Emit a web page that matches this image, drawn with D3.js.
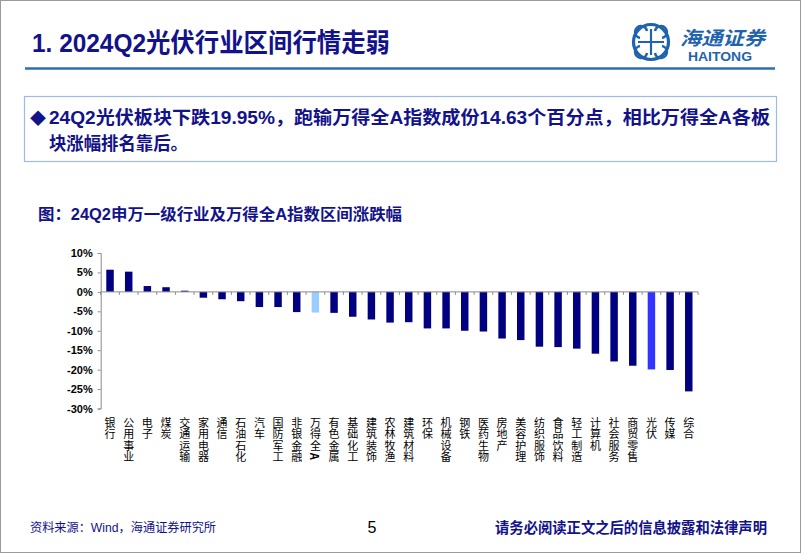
<!DOCTYPE html>
<html><head><meta charset="utf-8">
<script src="https://cdn.jsdelivr.net/npm/d3@7"></script>
<style>html,body{margin:0;padding:0;background:#fff;}svg{display:block;}</style>
</head><body>
<svg id="c" width="802" height="554"></svg>
<script>
const categories = ["银行","公用事业","电子","煤炭","交通运输","家用电器","通信","石油石化","汽车","国防军工","非银金融","万得全A","有色金属","基础化工","建筑装饰","农林牧渔","建筑材料","环保","机械设备","钢铁","医药生物","房地产","美容护理","纺织服饰","食品饮料","轻工制造","计算机","社会服务","商贸零售","光伏","传媒","综合"];
const values = [5.7,5.2,1.5,1.2,0.3,-1.5,-1.9,-2.4,-3.9,-3.9,-5.2,-5.32,-5.4,-6.4,-7.1,-7.9,-7.8,-9.4,-9.4,-10.0,-10.2,-12.0,-12.4,-14.1,-14.2,-14.6,-15.9,-17.9,-19.0,-19.95,-20.1,-25.6];
const yTicks = [10,5,0,-5,-10,-15,-20,-25,-30];
const yTickLabels = ["10%","5%","0%","-5%","-10%","-15%","-20%","-25%","-30%"];
const highlightColors = {"万得全A":"#99CCFF","光伏":"#3333FF"};

const NAVY = "#12128A";
const svg = d3.select("#c");
const CJK = "'Liberation Sans','Noto Sans CJK SC',sans-serif";

// page frame
svg.append("rect").attr("x",0.5).attr("y",0.5).attr("width",800).attr("height",552)
  .attr("fill","#fff").attr("stroke","#9a9a9a").attr("stroke-width",1);

// title
svg.append("text").attr("x",32).attr("y",52).attr("font-family",CJK).attr("font-weight","bold")
  .attr("font-size",26).attr("fill",NAVY).attr("textLength",358).attr("lengthAdjust","spacingAndGlyphs")
  .text("1. 2024Q2光伏行业区间行情走弱");
svg.append("line").attr("x1",25).attr("x2",775).attr("y1",68.5).attr("y2",68.5)
  .attr("stroke","#2E6DB4").attr("stroke-width",2.5);

// logo
const LB = "#1F63AE";
const lg = svg.append("g").attr("transform","translate(651,42)");
lg.append("circle").attr("r",17.5).attr("fill","none").attr("stroke",LB).attr("stroke-width",3.2);
lg.append("path").attr("d","M-11,-4 A6,6 0 1 1 -4,-11 M11,4 A6,6 0 1 1 4,11 M4,-11 A6,6 0 1 1 11,-4 M-4,11 A6,6 0 1 1 -11,4")
  .attr("fill","none").attr("stroke",LB).attr("stroke-width",2.6);
lg.append("path").attr("d","M-13,0 H13 M0,-13 V13").attr("stroke",LB).attr("stroke-width",2.2);
svg.append("text").attr("x",680).attr("y",45).attr("font-family","'Noto Sans CJK SC',sans-serif")
  .attr("font-size",19).attr("font-style","italic").attr("font-weight","bold").attr("fill",LB)
  .attr("textLength",85).attr("lengthAdjust","spacingAndGlyphs").text("海通证券");
svg.append("text").attr("x",688).attr("y",61).attr("font-family","'Liberation Sans',Arial,sans-serif")
  .attr("font-size",13).attr("font-weight","bold").attr("fill",LB)
  .attr("textLength",64).attr("lengthAdjust","spacingAndGlyphs").text("HAITONG");

// text box
svg.append("rect").attr("x",24.5).attr("y",96.5).attr("width",752).attr("height",65)
  .attr("fill","#fff").attr("stroke","#9DBBE3").attr("stroke-width",1.2);
svg.append("text").attr("x",30).attr("y",124).attr("font-family",CJK).attr("font-size",16)
  .attr("fill",NAVY).text("◆");
svg.append("text").attr("x",49).attr("y",124).attr("font-family",CJK).attr("font-weight","bold")
  .attr("font-size",18).attr("fill",NAVY).attr("textLength",721).attr("lengthAdjust","spacingAndGlyphs")
  .text("24Q2光伏板块下跌19.95%，跑输万得全A指数成份14.63个百分点，相比万得全A各板");
svg.append("text").attr("x",49).attr("y",150).attr("font-family",CJK).attr("font-weight","bold")
  .attr("font-size",18).attr("fill",NAVY).attr("textLength",139).attr("lengthAdjust","spacingAndGlyphs")
  .text("块涨幅排名靠后。");

// chart title
svg.append("text").attr("x",38).attr("y",220).attr("font-family",CJK).attr("font-weight","bold")
  .attr("font-size",16).attr("fill",NAVY).attr("textLength",364).attr("lengthAdjust","spacingAndGlyphs")
  .text("图：24Q2申万一级行业及万得全A指数区间涨跌幅");

// scales
const x0 = 100.7, x1 = 698.1;
const x = d3.scaleBand().domain(categories).range([x0, x1])
  .paddingInner(0.6).paddingOuter(0.3);
const step = x.step();
const y = d3.scaleLinear().domain([-30,10]).range([408.5,253]);

// bars
svg.append("g").selectAll("rect").data(categories).join("rect")
  .attr("x",d=>x(d)).attr("width",x.bandwidth())
  .attr("y",(d,i)=>y(Math.max(0,values[i])))
  .attr("height",(d,i)=>Math.abs(y(values[i])-y(0)))
  .attr("fill",d=>highlightColors[d]||"#000080");

// y axis
const yAxis = d3.axisLeft(y).tickValues(yTicks).tickSize(3).tickFormat((d,i)=>yTickLabels[i]);
const ga = svg.append("g").attr("transform",`translate(${x0},0)`).call(yAxis);
ga.select(".domain").attr("stroke","#8c8c8c");
ga.selectAll(".tick line").attr("stroke","#8c8c8c");
ga.selectAll(".tick text").attr("font-family","'Liberation Sans',Arial,sans-serif")
  .attr("font-weight","bold").attr("font-size",11).attr("fill","#000").attr("x",-8);

// x axis line at 0 with ticks at band boundaries
svg.append("line").attr("x1",x0).attr("x2",x1).attr("y1",y(0)).attr("y2",y(0))
  .attr("stroke","#8c8c8c").attr("stroke-width",1);
svg.append("g").selectAll("line").data(d3.range(categories.length+1)).join("line")
  .attr("x1",i=>x0+i*step).attr("x2",i=>x0+i*step).attr("y1",y(0)).attr("y2",y(0)+3)
  .attr("stroke","#8c8c8c");

// x labels (vertical stacked characters)
const lab = svg.append("g").attr("font-family","'Noto Sans CJK SC',sans-serif").attr("font-size",11).attr("fill","#000");
categories.forEach(c=>{
  const cx = x(c)+x.bandwidth()/2;
  Array.from(c).forEach((ch,k)=>{
    const cy = 421.5 + k*11.6;
    const t = lab.append("text").attr("text-anchor","middle").attr("dominant-baseline","central")
      .attr("x",cx).attr("y",cy).text(ch);
    if (/[A-Za-z0-9]/.test(ch)) t.attr("transform",`rotate(90,${cx},${cy})`).attr("font-weight","bold");
  });
});

// footer
svg.append("text").attr("x",30).attr("y",532).attr("font-family",CJK).attr("font-size",12.5)
  .attr("fill",NAVY).attr("textLength",186).attr("lengthAdjust","spacingAndGlyphs").text("资料来源：Wind，海通证券研究所");
svg.append("text").attr("x",372).attr("y",533).attr("font-family","'Liberation Sans',Arial,sans-serif")
  .attr("font-size",16).attr("text-anchor","middle").attr("fill","#000").text("5");
svg.append("text").attr("x",495).attr("y",533).attr("font-family",CJK).attr("font-weight","bold")
  .attr("font-size",15).attr("fill",NAVY).attr("textLength",272).attr("lengthAdjust","spacingAndGlyphs")
  .text("请务必阅读正文之后的信息披露和法律声明");
</script>
</body></html>
